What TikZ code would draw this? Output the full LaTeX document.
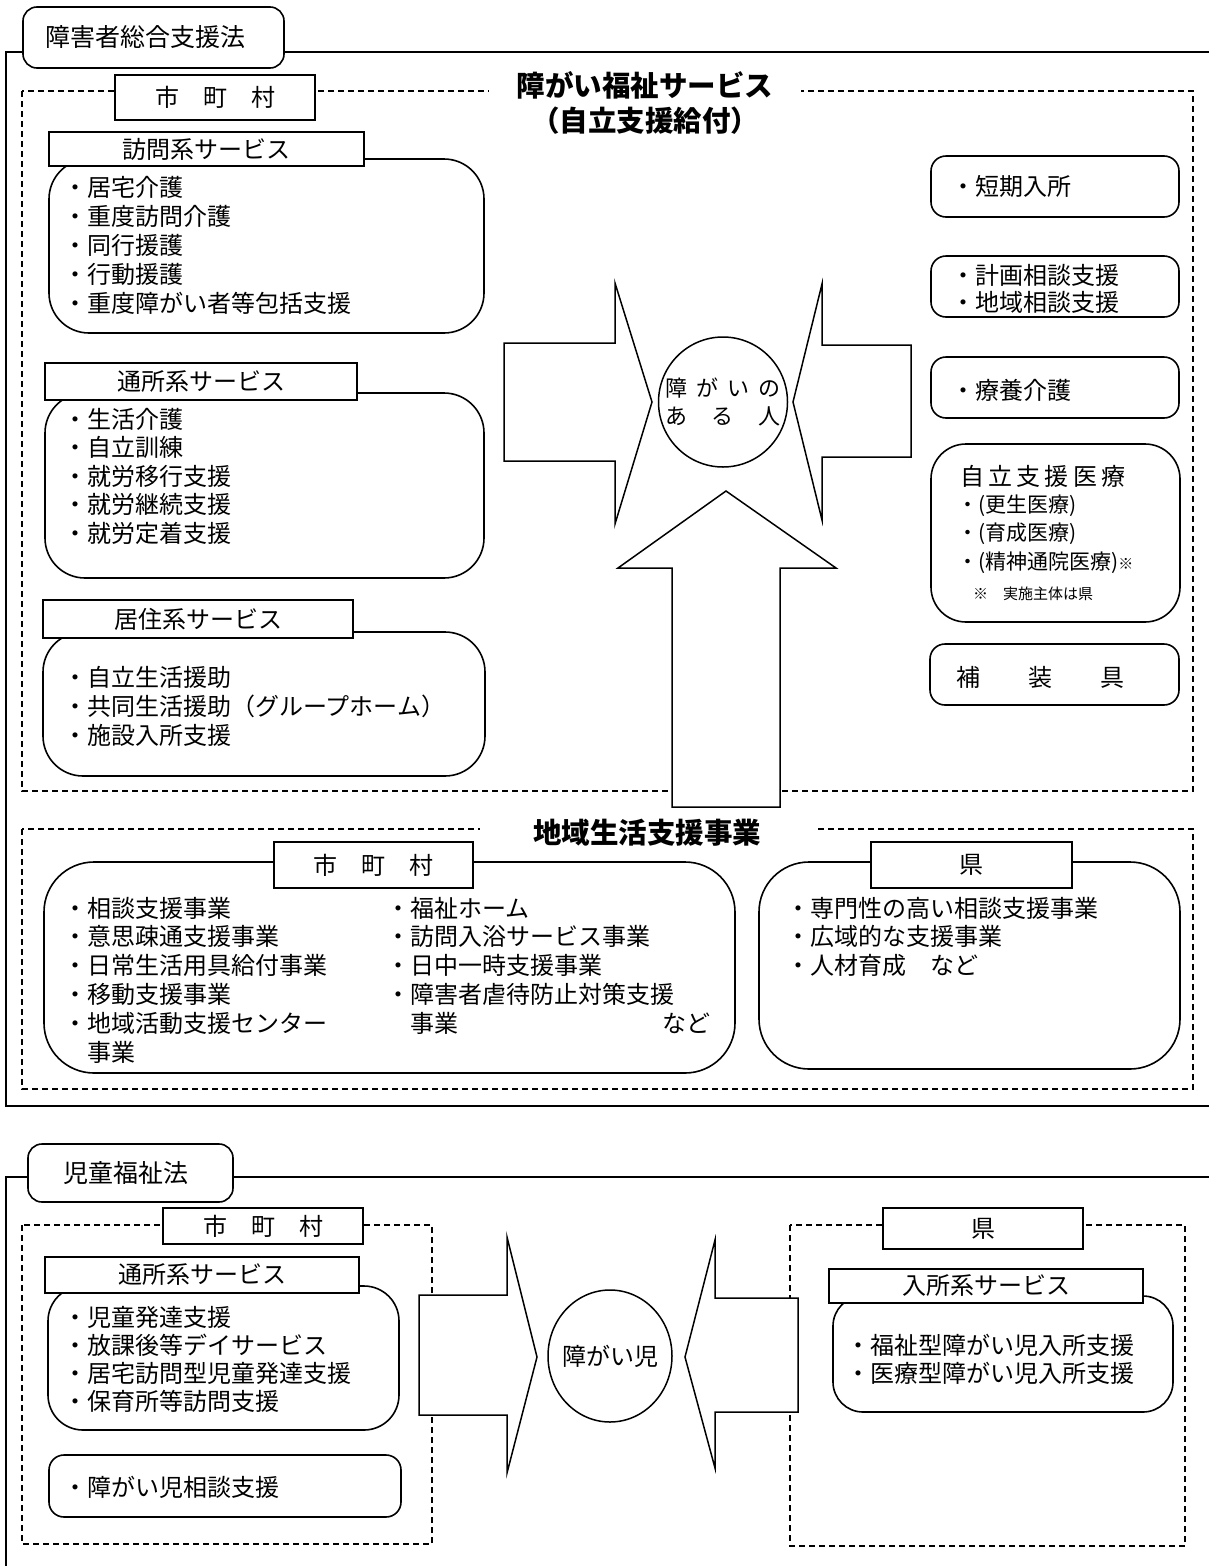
\documentclass[tikz,border=0pt]{standalone}
\usepackage{fontspec}
\setmainfont{Noto Sans CJK JP}
\usetikzlibrary{shapes,arrows,positioning}
\tikzstyle{frame} = [draw, line width=1.6pt]
\tikzstyle{region} = [draw, line width=1.2pt, dash pattern=on 6pt off 4pt]
\tikzstyle{lawtitle} = [rectangle, draw, line width=1.6pt, rounded corners=14pt, fill=white, align=left, inner ysep=0pt, font=\fontsize{25}{30}\selectfont]
\tikzstyle{tab} = [rectangle, draw, line width=1.6pt, fill=white, inner sep=0pt, font=\fontsize{24}{29}\selectfont]
\tikzstyle{group} = [rectangle, draw, line width=1.6pt, rounded corners=40pt, inner sep=0pt]
\tikzstyle{card} = [rectangle, draw, line width=1.6pt, rounded corners=15pt, inner sep=0pt]
\tikzstyle{items} = [inner sep=0pt, anchor=base west, align=left, text width=420pt, font=\fontsize{24}{29}\selectfont]
\tikzstyle{heading} = [fill=white, inner xsep=28pt, inner ysep=4pt, align=center, font=\bfseries\fontsize{28.5}{35}\selectfont]
\tikzstyle{block} = [draw, line width=1.5pt, fill=white]
\tikzstyle{person} = [ellipse, draw, line width=1.5pt, fill=white, inner sep=0pt]

\begin{document}
\begin{tikzpicture}[x=1pt, y=-1pt]
        \useasboundingbox (0,0) rectangle (1209,1566);

        \draw [frame] (1215,52) -- (6,52) -- (6,1106) -- (1215,1106);
        \node [lawtitle, text width=217pt, inner xsep=22pt, minimum height=61pt] (sougou) at (153.5,37.5) {障害者総合支援法};

        \draw [region] (22,91) rectangle (1193,791);
        \node [tab, minimum width=200pt, minimum height=45pt] (city1) at (215,97.5) {市　町　村};
        \node [heading] (fukushi) at (645,102.5) {障がい福祉サービス\\（自立支援給付）};

        \node [group, minimum width=435pt, minimum height=174pt] (houmon) at (266.5,246) {};
        \node [tab, minimum width=315pt, minimum height=34pt] (houmontab) at (206.5,149) {訪問系サービス};
        \node [items] (houmonlist) at (63,196) {・居宅介護\\・重度訪問介護\\・同行援護\\・行動援護\\・重度障がい者等包括支援};

        \node [group, minimum width=439pt, minimum height=185pt] (tsusho) at (264.5,485.5) {};
        \node [tab, minimum width=312pt, minimum height=37pt] (tsushotab) at (201,381.5) {通所系サービス};
        \node [items, font=\fontsize{24}{28.5}\selectfont] (tsusholist) at (63,428) {・生活介護\\・自立訓練\\・就労移行支援\\・就労継続支援\\・就労定着支援};

        \node [group, minimum width=442pt, minimum height=144pt] (kyoju) at (264,704) {};
        \node [tab, minimum width=310pt, minimum height=38pt] (kyojutab) at (198,619) {居住系サービス};
        \node [items] (kyojulist) at (63,686) {・自立生活援助\\・共同生活援助（グループホーム）\\・施設入所支援};

        \node [card, minimum width=248pt, minimum height=61pt] (tanki) at (1055,186.5) {};
        \node [items] (tankitext) at (951,195.5) {・短期入所};
        \node [card, minimum width=248pt, minimum height=61pt] (soudan) at (1055,286.5) {};
        \node [items, font=\fontsize{24}{27}\selectfont] (soudantext) at (951,284) {・計画相談支援\\・地域相談支援};
        \node [card, minimum width=248pt, minimum height=61pt] (ryouyou) at (1055,387.5) {};
        \node [items] (ryouyoutext) at (951,399) {・療養介護};
        \node [card, rounded corners=35pt, minimum width=249pt, minimum height=178pt] (iryou) at (1055.5,533) {};
        \node [items] (iryoutitle) at (960,485) {\makebox[165pt][s]{自\hfil 立\hfil 支\hfil 援\hfil 医\hfil 療}};
        \node [items, font=\fontsize{21}{28.5}\selectfont] (iryoulist) at (957,512) {・(更生医療)\\・(育成医療)\\・(精神通院医療){\fontsize{15}{18}\selectfont ※}};
        \node [items, font=\fontsize{15}{18}\selectfont] (iryounote) at (973,599) {※　実施主体は県};
        \node [card, minimum width=249pt, minimum height=61pt] (hosougu) at (1054.5,674.5) {};
        \node [items] (hosougutext) at (956,686) {\makebox[168pt][s]{補\hfil 装\hfil 具}};

        \draw [block] (504,343) -- (615,343) -- (615,283) -- (652,402) -- (615,524) -- (615,461) -- (504,461) -- cycle;
        \draw [block] (911,345) -- (822,345) -- (822,284) -- (793,402) -- (822,520) -- (822,457) -- (911,457) -- cycle;
        \draw [block] (672,807) -- (672,568) -- (618,568) -- (726,491) -- (836,568) -- (780,568) -- (780,807) -- cycle;
        \node [person, minimum width=129pt, minimum height=130pt] (person) at (723,402) {};
        \node [align=center, inner sep=0pt, font=\fontsize{22}{28}\selectfont] (persontext) at (person) {\makebox[115pt][s]{障\hfil が\hfil い\hfil の}\\\makebox[115pt][s]{あ\hfil る\hfil 人}};

        \draw [region] (22,829) rectangle (1193,1089);
        \node [heading, inner xsep=53pt] (chiiki) at (647,833) {地域生活支援事業};
        \node [group, rounded corners=50pt, minimum width=691pt, minimum height=211pt] (chiikicity) at (389.5,967.5) {};
        \node [group, rounded corners=50pt, minimum width=421pt, minimum height=207pt] (chiikipref) at (969.5,965.5) {};
        \node [tab, minimum width=199pt, minimum height=46pt] (city2) at (373.5,865) {市　町　村};
        \node [tab, minimum width=201pt, minimum height=46pt] (pref1) at (971.5,865) {県};
        \node [items, font=\fontsize{24}{28.8}\selectfont] (citylist1) at (63,917) {・相談支援事業\\・意思疎通支援事業\\・日常生活用具給付事業\\・移動支援事業\\・地域活動支援センター\\\phantom{・}事業};
        \node [items, text width=324pt, font=\fontsize{24}{28.8}\selectfont] (citylist2) at (386,917) {・福祉ホーム\\・訪問入浴サービス事業\\・日中一時支援事業\\・障害者虐待防止対策支援\\\phantom{・}事業\hfill など};
        \node [items, font=\fontsize{24}{28.8}\selectfont] (preflist) at (786,917) {・専門性の高い相談支援事業\\・広域的な支援事業\\・人材育成　など};

        \draw [frame] (1215,1177) -- (6,1177) -- (6,1570);
        \node [lawtitle, text width=135pt, inner xsep=35pt, minimum height=58pt] (jido) at (130.5,1173) {児童福祉法};

        \draw [region] (22,1225) rectangle (432,1544);
        \draw [region] (790,1225) rectangle (1185,1546);
        \node [tab, minimum width=200pt, minimum height=36pt] (city3) at (263,1226) {市　町　村};
        \node [group, rounded corners=35pt, minimum width=351pt, minimum height=144pt] (jidotsusho) at (223.5,1358) {};
        \node [tab, minimum width=314pt, minimum height=36pt] (jidotab) at (202,1275) {通所系サービス};
        \node [items, font=\fontsize{24}{28.3}\selectfont] (jidolist) at (63,1326) {・児童発達支援\\・放課後等デイサービス\\・居宅訪問型児童発達支援\\・保育所等訪問支援};
        \node [card, minimum width=352pt, minimum height=62pt] (jidosodan) at (225,1486) {};
        \node [items] (jidosodantext) at (63,1496) {・障がい児相談支援};

        \node [tab, minimum width=200pt, minimum height=41pt] (pref2) at (983,1228.5) {県};
        \node [group, rounded corners=30pt, minimum width=340pt, minimum height=116pt] (nyusho) at (1003,1354) {};
        \node [tab, minimum width=314pt, minimum height=34pt] (nyushotab) at (986,1286) {入所系サービス};
        \node [items, font=\fontsize{24}{28}\selectfont] (nyusholist) at (846,1354) {・福祉型障がい児入所支援\\・医療型障がい児入所支援};

        \draw [block] (419,1295) -- (507,1295) -- (507,1237) -- (537,1357) -- (507,1473) -- (507,1415) -- (419,1415) -- cycle;
        \draw [block] (798,1298) -- (715,1298) -- (715,1240) -- (685,1357) -- (715,1468) -- (715,1412) -- (798,1412) -- cycle;
        \node [person, minimum width=124pt, minimum height=132pt] (child) at (610,1356) {};
        \node [inner sep=0pt, font=\fontsize{24}{29}\selectfont] (childtext) at (child) {障がい児};
      \end{tikzpicture}
\end{document}
